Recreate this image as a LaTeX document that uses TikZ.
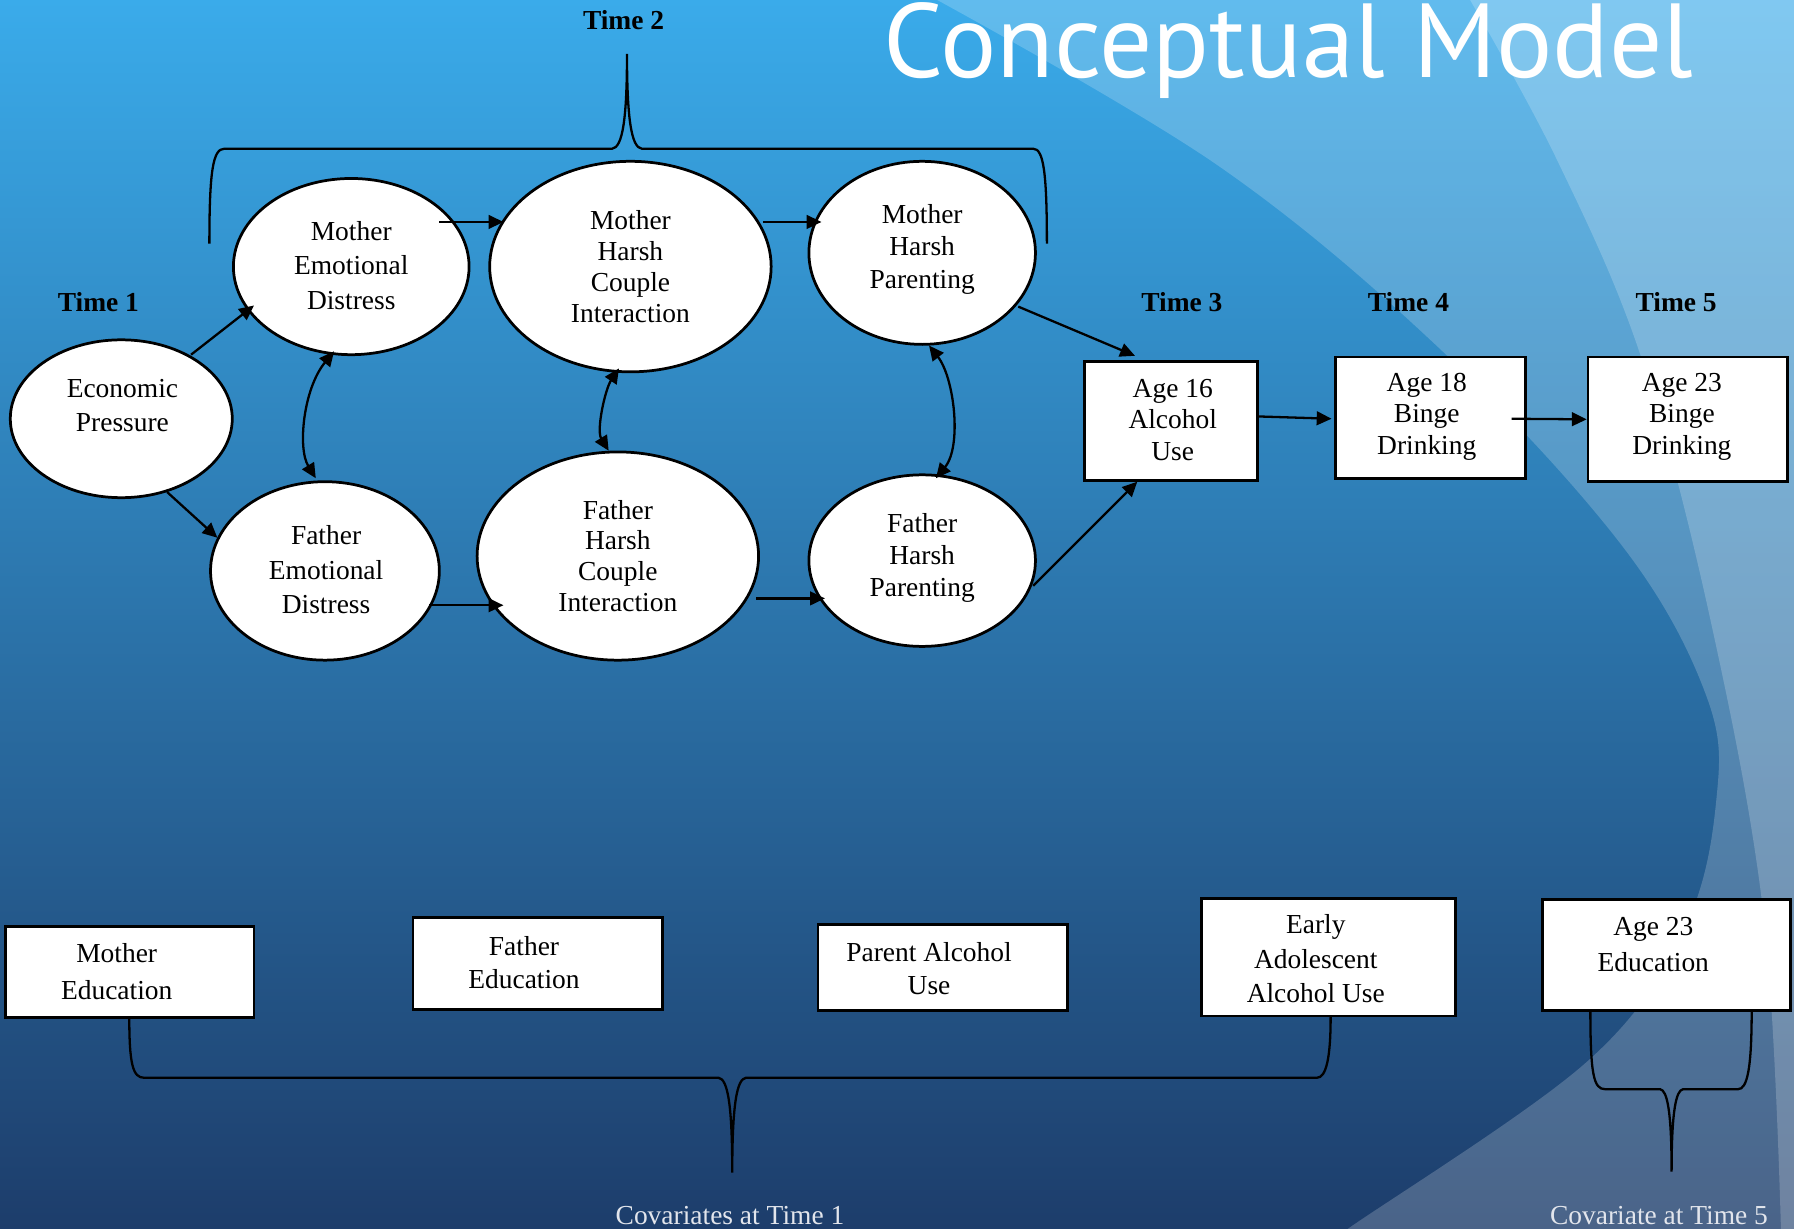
\documentclass[tikz,border=0pt]{standalone}
\usepackage{fontspec}
\setmainfont{Liberation Serif}
\newfontfamily\titlefont{PT Sans}
\usetikzlibrary{shapes.geometric,arrows.meta,calc}
\definecolor{bgtop}{RGB}{58,171,234}
\definecolor{bgmid}{RGB}{45,125,187}
\definecolor{bgbot}{RGB}{29,61,107}
\definecolor{captxt}{RGB}{226,229,236}
\begin{document}
\begin{tikzpicture}[x=0.5pt,y=-0.5pt,
  ell/.style={ellipse, draw=black, fill=white, line width=1.2pt, inner sep=0pt},
  boxst/.style={rectangle, draw=black, fill=white, line width=1.2pt, inner sep=0pt},
  txt/.style={align=center, inner sep=0pt, font=\fontsize{12}{#1}\selectfont},
  tlabel/.style={inner sep=0pt, font=\bfseries\fontsize{12}{14}\selectfont},
  caplabel/.style={inner sep=0pt, text=captxt, font=\fontsize{12}{14}\selectfont},
  arr/.style={-{Triangle[length=6.5pt,width=6pt]}, line width=1pt},
  dbl/.style={{Triangle[length=6.5pt,width=6pt]}-{Triangle[length=6.5pt,width=6pt]}, line width=1pt},
  bracest/.style={line width=1pt}]
\useasboundingbox (0,0) rectangle (1568,1074);
% background
\begin{scope}
\clip (0,0) rectangle (1568,1074);
\shade[top color=bgtop, middle color=bgmid, bottom color=bgbot] (0,0) rectangle (1568,1074);
\fill[white, opacity=0.2] plot[smooth, tension=0.6] coordinates {(810,-5) (1065,145) (1265,311) (1420,480) (1492,610) (1500,700) (1472,812) (1387,928) (1178,1074) (1155,1090)} -- (1600,1090) -- (1600,-5) -- cycle;
\fill[white, opacity=0.2] plot[smooth, tension=0.6] coordinates {(1282,-5) (1360,138) (1434,311) (1495,542) (1542,805) (1557,1090)} -- (1600,1090) -- (1600,-5) -- cycle;
\end{scope}
% title
\node[anchor=base west, text=white, inner sep=0pt, font=\titlefont\fontsize{46}{46}\selectfont] (title) at (772,68) {Conceptual Model};
% time labels
\node[tlabel] (t2) at (545,18) {Time 2};
\node[tlabel] (t1) at (86,264) {Time 1};
\node[tlabel] (t3) at (1033,264) {Time 3};
\node[tlabel] (t4) at (1231,264) {Time 4};
\node[tlabel] (t5) at (1465,264) {Time 5};
% ellipses
\node[ell, minimum width=97pt, minimum height=69pt] (EP) at (106,366) {};
\node[txt=14.5] (tEP) at (107,354.5) {Economic\\Pressure};
\node[ell, minimum width=103pt, minimum height=77pt] (MED) at (307,233) {};
\node[txt=15] (tMED) at (307,232) {Mother\\Emotional\\Distress};
\node[ell, minimum width=100pt, minimum height=78pt] (FED) at (284,499) {};
\node[txt=15] (tFED) at (285,498) {Father\\Emotional\\Distress};
\node[ell, minimum width=123pt, minimum height=92pt] (MHCI) at (551,233) {};
\node[txt=13.5] (tMHCI) at (551,233) {Mother\\Harsh\\Couple\\Interaction};
\node[ell, minimum width=123pt, minimum height=91pt] (FHCI) at (540,486) {};
\node[txt=13.5] (tFHCI) at (540,486) {Father\\Harsh\\Couple\\Interaction};
\node[ell, minimum width=99pt, minimum height=80pt] (MHP) at (806,221) {};
\node[txt=14] (tMHP) at (806,218) {Mother\\Harsh\\Parenting};
\node[ell, minimum width=99pt, minimum height=75pt] (FHP) at (806,490) {};
\node[txt=14] (tFHP) at (806,488) {Father\\Harsh\\Parenting};
% outcome boxes
\node[boxst, minimum width=75.5pt, minimum height=52pt] (A16) at (1023.5,368) {};
\node[txt=13.75] (tA16) at (1025,367) {Age 16\\Alcohol\\Use};
\node[boxst, minimum width=83pt, minimum height=53pt] (A18) at (1250,365) {};
\node[txt=13.75] (tA18) at (1247,364) {Age 18\\Binge\\Drinking};
\node[boxst, minimum width=87pt, minimum height=54.5pt] (A23) at (1475,366.5) {};
\node[txt=13.75] (tA23) at (1470,364) {Age 23\\Binge\\Drinking};
% covariate boxes
\node[boxst, minimum width=108.5pt, minimum height=39.5pt] (ME) at (113.5,849.5) {};
\node[txt=16] (tME) at (102,849) {Mother\\Education};
\node[boxst, minimum width=109pt, minimum height=40pt] (FE) at (470,842) {};
\node[txt=14.5] (tFE) at (458,841.5) {Father\\Education};
\node[boxst, minimum width=109pt, minimum height=37.5pt] (PAU) at (824,845.5) {};
\node[txt=14.5] (tPAU) at (812,846.5) {Parent Alcohol\\Use};
\node[boxst, minimum width=111pt, minimum height=51.5pt] (EAAU) at (1161,836.5) {};
\node[txt=15] (tEAAU) at (1150,838) {Early\\Adolescent\\Alcohol Use};
\node[boxst, minimum width=108.5pt, minimum height=48.5pt] (A23E) at (1456.5,834.5) {};
\node[txt=15.5] (tA23E) at (1445,825.5) {Age 23\\Education};
% arrows
\draw[arr] ($(EP.center)+(61,-56)$) -- ($(MED.center)+(-85,34)$);
\draw[arr] ($(EP.center)+(40,64)$) -- ($(FED.center)+(-94,-29)$);
\draw[arr] ($(MED.center)+(77,-39)$) -- ($(MHCI.center)+(-111,-39)$);
\draw[arr] ($(MHCI.center)+(116,-39)$) -- ($(MHP.center)+(-88,-27)$);
\draw[arr] ($(FED.center)+(91,30)$) -- ($(FHCI.center)+(-100,43)$);
\draw[arr] ($(FHCI.center)+(121,37)$) -- ($(FHP.center)+(-85,33)$);
\draw[arr] ($(MHP.center)+(84,47)$) -- ($(A16.center)+(-31.5,-57)$);
\draw[arr] ($(FHP.center)+(97,22)$) -- ($(A16.center)+(-29.5,53)$);
\draw[arr] ($(A16.east)+(0,-4)$) -- ($(A18.west)+(-2,1)$);
\draw[arr] ($(A18.east)+(-13,1)$) -- (A23.west);
% correlations
\draw[dbl] ($(MED.center)+(-15,74)$) .. controls ($(MED.center)+(-42,107)$) and ($(FED.center)+(-24,-107)$) .. ($(FED.center)+(-8,-81)$);
\draw[dbl] ($(MHCI.center)+(-10,89)$) .. controls ($(MHCI.center)+(-22,107)$) and ($(FHCI.center)+(-19,-110)$) .. ($(FHCI.center)+(-8,-92)$);
\draw[dbl] ($(MHP.center)+(6,81)$) .. controls ($(MHP.center)+(28,109)$) and ($(FHP.center)+(35,-100)$) .. ($(FHP.center)+(12,-72)$);
% braces
\draw[bracest] (183,213) .. controls (183,150) and (186,130) .. (196,130) -- (535,130) .. controls (544,129) and (548,105) .. (548,47) .. controls (548,105) and (552,129) .. (561,130) -- (903,130) .. controls (912,130) and (915,150) .. (915,213);
\draw[bracest] (113,889) .. controls (113,930) and (116,942) .. (126,942) -- (628,942) .. controls (636,943) and (640,965) .. (640,1025) .. controls (640,965) and (644,943) .. (652,942) -- (1151,942) .. controls (1159,942) and (1163,925) .. (1163,889);
\draw[bracest] (1390,883) .. controls (1390,940) and (1393,952) .. (1403,952) -- (1451,952) .. controls (1457,953) and (1461,970) .. (1461,1024) .. controls (1461,970) and (1465,953) .. (1471,952) -- (1519,952) .. controls (1527,952) and (1531,935) .. (1531,883);
% captions
\node[caplabel] (c1) at (638,1062) {Covariates at Time 1};
\node[caplabel] (c5) at (1450,1062) {Covariate at Time 5};
\end{tikzpicture}
\end{document}
